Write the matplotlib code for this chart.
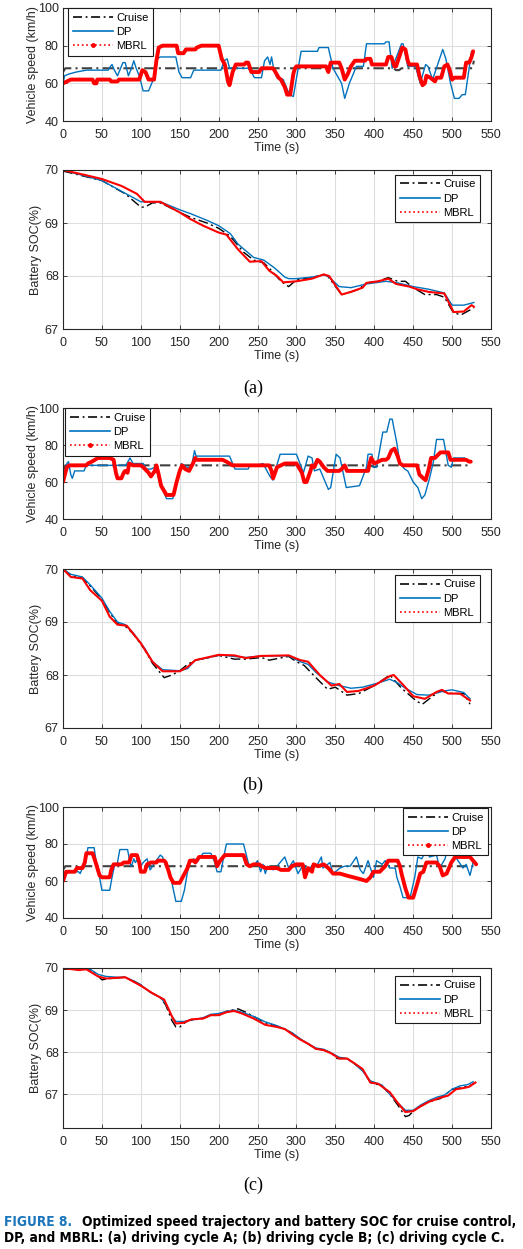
import numpy as np
import matplotlib
matplotlib.use('Agg')
import matplotlib.pyplot as plt
from matplotlib.lines import Line2D

plt.rcParams['font.family'] = ['Liberation Sans', 'DejaVu Sans']

# ---- speed trajectories (time s, km/h) ----
cruise_a = [(0, 66), (3, 68), (425, 68), (428, 67), (432, 67), (435, 68), (526, 68), (528, 72)]
dp_a = [(0, 60), (2, 64), (8, 65), (17, 66), (30, 67), (45, 67), (58, 67), (61, 69), (63, 70), (66, 67),
        (70, 64), (74, 68), (77, 71), (80, 71), (84, 64), (88, 68), (91, 72), (94, 68), (98, 64), (103, 56),
        (110, 56), (116, 62), (121, 73), (125, 74), (145, 74), (149, 66), (153, 63), (164, 63), (168, 67),
        (203, 67), (207, 72), (211, 73), (214, 68), (220, 68), (238, 68), (242, 66), (246, 63), (255, 63),
        (259, 72), (263, 74), (266, 70), (268, 74), (271, 67), (275, 63), (283, 62), (291, 54), (296, 53),
        (306, 77), (327, 77), (329, 79), (341, 79), (347, 68), (358, 60), (362, 52), (368, 60), (377, 69),
        (386, 69), (390, 81), (413, 81), (415, 82), (419, 82), (423, 68), (435, 81), (437, 81), (443, 69),
        (453, 69), (459, 60), (466, 70), (469, 69), (475, 62), (479, 67), (488, 78), (492, 73), (498, 60),
        (503, 52), (509, 52), (513, 54), (517, 54), (525, 77), (527, 77)]
mbrl_a = [(0, 60), (5, 61), (10, 62), (38, 62), (40, 60), (43, 60), (44, 62), (60, 62), (62, 61), (70, 61),
          (72, 62), (98, 62), (102, 67), (106, 66), (110, 62), (117, 62), (120, 72), (123, 79), (128, 80),
          (146, 80), (148, 76), (155, 76), (158, 78), (170, 78), (172, 79), (178, 80), (200, 80), (204, 73),
          (208, 70), (212, 61), (214, 59), (218, 66), (222, 70), (233, 70), (235, 71), (238, 71), (242, 66),
          (252, 66), (255, 68), (270, 68), (273, 66), (277, 63), (280, 62), (285, 58), (288, 54), (292, 54),
          (296, 65), (298, 68), (300, 69), (338, 69), (341, 66), (344, 71), (355, 71), (358, 68), (362, 62),
          (366, 65), (370, 69), (375, 72), (388, 72), (390, 73), (395, 73), (397, 70), (415, 70), (418, 74),
          (422, 74), (426, 69), (428, 69), (432, 74), (436, 79), (440, 78), (443, 72), (445, 70), (455, 70),
          (458, 64), (462, 59), (465, 60), (467, 64), (472, 63), (475, 62), (478, 61), (480, 63), (486, 63),
          (490, 69), (494, 70), (497, 67), (500, 62), (503, 63), (515, 63), (518, 71), (522, 71), (525, 74),
          (527, 77)]

cruise_b = [(0, 64), (3, 69), (395, 69), (400, 68), (405, 69), (522, 69), (523, 70)]
dp_b = [(0, 60), (2, 65), (5, 70), (7, 71), (10, 64), (12, 62), (15, 66), (27, 66), (30, 69), (81, 69),
        (86, 73), (90, 70), (103, 70), (107, 67), (113, 67), (118, 68), (120, 67), (124, 60), (133, 51),
        (141, 51), (150, 66), (152, 70), (158, 68), (165, 68), (169, 77), (171, 74), (214, 74), (221, 67),
        (238, 67), (240, 69), (249, 69), (257, 70), (266, 63), (270, 61), (274, 68), (279, 75), (300, 75),
        (309, 65), (315, 74), (320, 73), (323, 66), (330, 67), (341, 56), (344, 57), (351, 75), (356, 73),
        (364, 57), (381, 58), (390, 68), (392, 75), (397, 75), (399, 68), (403, 68), (411, 87), (416, 87),
        (420, 94), (423, 94), (429, 81), (433, 70), (439, 67), (443, 66), (450, 60), (456, 57), (461, 51),
        (465, 53), (471, 62), (476, 71), (480, 83), (489, 83), (495, 69), (499, 68), (502, 73), (516, 73),
        (519, 72), (523, 71)]
mbrl_b = [(0, 60), (3, 65), (5, 68), (8, 69), (30, 69), (32, 70), (37, 71), (45, 73), (60, 73), (65, 72),
          (68, 65), (70, 62), (75, 62), (78, 65), (80, 66), (83, 65), (85, 70), (90, 69), (100, 69), (103, 68),
          (110, 65), (113, 63), (118, 66), (120, 69), (123, 64), (126, 58), (133, 53), (142, 53), (146, 60),
          (150, 66), (153, 69), (157, 67), (162, 66), (167, 70), (170, 73), (172, 72), (205, 72), (210, 71),
          (218, 69), (265, 69), (268, 66), (270, 62), (275, 68), (280, 69), (285, 70), (300, 70), (307, 65),
          (310, 60), (313, 60), (318, 66), (320, 69), (323, 68), (327, 72), (330, 71), (335, 68), (340, 66),
          (355, 66), (358, 67), (362, 69), (365, 66), (392, 66), (394, 70), (396, 73), (400, 70), (405, 71),
          (410, 72), (415, 72), (418, 73), (422, 77), (426, 78), (430, 74), (433, 70), (437, 69), (455, 69),
          (458, 64), (463, 62), (466, 61), (470, 67), (473, 73), (478, 73), (485, 76), (495, 76), (498, 72),
          (518, 72), (522, 71), (524, 71)]

cruise_c = [(0, 66), (3, 68), (528, 68)]
dp_c = [(0, 60), (3, 64), (10, 65), (20, 65), (22, 64), (25, 67), (28, 68), (32, 78), (40, 78), (42, 72),
        (47, 62), (50, 55), (60, 55), (63, 62), (66, 68), (70, 70), (73, 77), (83, 77), (86, 70), (88, 68),
        (91, 72), (93, 70), (96, 72), (100, 68), (103, 70), (108, 72), (112, 66), (118, 70), (125, 74),
        (128, 73), (132, 68), (137, 65), (142, 55), (145, 49), (152, 49), (156, 55), (160, 65), (163, 70),
        (168, 72), (172, 70), (180, 75), (190, 75), (195, 70), (198, 65), (203, 65), (206, 72), (210, 80),
        (232, 80), (238, 70), (240, 68), (245, 68), (250, 71), (254, 65), (257, 69), (260, 64), (263, 68),
        (270, 66), (275, 68), (285, 73), (290, 67), (296, 71), (302, 64), (309, 69), (313, 66), (320, 68),
        (326, 68), (332, 73), (334, 67), (343, 70), (347, 64), (356, 67), (362, 68), (369, 68), (377, 73),
        (382, 66), (386, 64), (392, 71), (399, 62), (403, 71), (410, 69), (414, 71), (420, 67), (427, 67),
        (429, 62), (433, 57), (437, 51), (446, 51), (452, 62), (456, 73), (461, 72), (467, 77), (471, 73),
        (480, 74), (484, 67), (491, 72), (495, 80), (506, 72), (514, 67), (518, 69), (523, 63), (527, 70),
        (530, 70)]
mbrl_c = [(0, 60), (4, 65), (15, 65), (18, 67), (25, 67), (28, 70), (30, 75), (38, 75), (42, 70), (47, 63),
          (50, 62), (60, 62), (62, 66), (65, 69), (75, 69), (78, 70), (85, 70), (88, 74), (95, 74), (98, 70),
          (100, 65), (105, 65), (108, 69), (113, 70), (120, 70), (122, 71), (130, 71), (132, 70), (136, 65),
          (138, 62), (142, 59), (150, 59), (155, 63), (160, 67), (163, 71), (168, 71), (170, 70), (175, 73),
          (195, 73), (198, 68), (202, 71), (208, 74), (232, 74), (236, 69), (240, 68), (245, 69), (252, 69),
          (255, 68), (260, 67), (275, 67), (280, 66), (290, 66), (294, 68), (300, 69), (308, 69), (311, 62),
          (315, 67), (320, 65), (322, 69), (328, 68), (335, 69), (341, 67), (347, 64), (356, 64), (364, 63),
          (373, 62), (382, 61), (390, 60), (395, 62), (399, 65), (407, 65), (414, 68), (418, 71), (430, 71),
          (433, 68), (435, 64), (440, 56), (444, 51), (450, 51), (455, 58), (459, 64), (463, 65), (467, 70),
          (480, 70), (484, 68), (488, 63), (493, 64), (499, 70), (504, 73), (523, 73), (527, 71), (531, 69)]

# ---- battery SOC (time s, %) ----
cruise_soc_a = [(0, 69.98), (50, 69.8), (80, 69.55), (100, 69.3), (105, 69.3), (115, 69.38), (125, 69.38),
                (150, 69.2), (165, 69.1), (185, 69.0), (200, 68.9), (215, 68.75), (232, 68.45), (245, 68.3),
                (258, 68.25), (268, 68.1), (280, 67.9), (290, 67.8), (300, 67.93), (320, 67.97), (335, 68.03),
                (340, 68.0), (358, 67.65), (370, 67.7), (380, 67.75), (390, 67.87), (405, 67.9), (418, 67.97),
                (430, 67.9), (440, 67.9), (450, 67.78), (465, 67.65), (480, 67.65), (490, 67.6), (502, 67.3),
                (512, 67.27), (528, 67.4)]
dp_soc_a = [(0, 70.0), (25, 69.9), (50, 69.8), (75, 69.6), (100, 69.4), (125, 69.4), (150, 69.25),
            (165, 69.17), (185, 69.05), (200, 68.95), (210, 68.85), (215, 68.8), (225, 68.6), (245, 68.35),
            (258, 68.3), (272, 68.15), (285, 67.98), (290, 67.95), (300, 67.95), (320, 67.98), (335, 68.02),
            (340, 68.0), (355, 67.8), (370, 67.78), (390, 67.85), (415, 67.9), (430, 67.87), (450, 67.8),
            (470, 67.75), (490, 67.68), (500, 67.45), (515, 67.45), (528, 67.5)]
mbrl_soc_a = [(0, 70.0), (30, 69.9), (50, 69.83), (75, 69.7), (95, 69.55), (105, 69.4), (125, 69.4),
              (150, 69.2), (163, 69.08), (180, 68.95), (200, 68.82), (210, 68.78), (225, 68.5), (240, 68.27),
              (255, 68.28), (265, 68.1), (275, 68.0), (283, 67.88), (300, 67.9), (320, 67.95), (335, 68.03),
              (342, 68.0), (358, 67.65), (370, 67.7), (385, 67.78), (390, 67.87), (405, 67.9), (418, 67.95),
              (428, 67.85), (445, 67.8), (455, 67.75), (470, 67.7), (490, 67.67), (502, 67.32), (515, 67.33),
              (525, 67.45), (528, 67.42)]

cruise_soc_b = [(0, 70.0), (10, 69.88), (25, 69.83), (35, 69.68), (50, 69.43), (60, 69.18), (70, 68.97),
                (80, 68.92), (90, 68.78), (105, 68.48), (115, 68.22), (130, 67.95), (140, 68.0), (150, 68.08),
                (160, 68.2), (170, 68.28), (185, 68.32), (200, 68.37), (220, 68.3), (235, 68.3), (255, 68.33),
                (265, 68.28), (290, 68.35), (300, 68.25), (310, 68.18), (325, 67.95), (340, 67.73),
                (350, 67.77), (365, 67.62), (380, 67.65), (400, 67.8), (420, 68.0), (435, 67.75), (455, 67.5),
                (462, 67.45), (475, 67.6), (485, 67.7), (500, 67.65), (515, 67.65), (523, 67.45)]
dp_soc_b = [(0, 70.0), (10, 69.9), (25, 69.85), (35, 69.7), (50, 69.45), (60, 69.2), (70, 69.0), (80, 68.95),
            (90, 68.8), (105, 68.5), (115, 68.25), (128, 68.1), (150, 68.08), (160, 68.12), (170, 68.28),
            (185, 68.32), (200, 68.38), (220, 68.35), (235, 68.33), (255, 68.36), (290, 68.36), (305, 68.25),
            (315, 68.2), (325, 68.05), (340, 67.87), (355, 67.8), (370, 67.75), (385, 67.77), (405, 67.85),
            (420, 67.92), (430, 67.85), (440, 67.75), (455, 67.63), (470, 67.62), (490, 67.7), (500, 67.72),
            (515, 67.67), (523, 67.55)]
mbrl_soc_b = [(0, 70.0), (10, 69.85), (25, 69.82), (35, 69.6), (50, 69.4), (60, 69.1), (70, 68.95),
              (82, 68.93), (100, 68.6), (115, 68.25), (128, 68.07), (150, 68.07), (160, 68.15), (170, 68.28),
              (185, 68.33), (200, 68.38), (220, 68.37), (235, 68.32), (255, 68.36), (290, 68.37), (305, 68.28),
              (315, 68.25), (330, 68.0), (345, 67.8), (355, 67.83), (365, 67.68), (380, 67.7), (400, 67.8),
              (420, 67.98), (425, 68.0), (438, 67.8), (450, 67.6), (465, 67.55), (480, 67.68), (487, 67.72),
              (495, 67.65), (510, 67.65), (523, 67.52)]

cruise_soc_c = [(0, 69.97), (15, 69.98), (30, 70.0), (40, 69.9), (50, 69.72), (60, 69.75), (80, 69.78),
                (90, 69.7), (100, 69.6), (110, 69.45), (125, 69.3), (132, 69.12), (140, 68.75), (145, 68.6),
                (150, 68.6), (160, 68.75), (180, 68.8), (190, 68.88), (200, 68.87), (210, 68.97), (225, 69.03),
                (235, 68.95), (245, 68.85), (260, 68.7), (275, 68.62), (285, 68.55), (295, 68.45), (305, 68.3),
                (315, 68.2), (325, 68.08), (335, 68.05), (345, 67.98), (352, 67.85), (365, 67.85),
                (375, 67.72), (385, 67.58), (395, 67.28), (410, 67.2), (420, 67.0), (430, 66.75), (440, 66.47),
                (445, 66.5), (450, 66.6), (460, 66.72), (470, 66.82), (485, 66.9), (490, 66.97), (500, 67.12),
                (510, 67.15), (522, 67.2), (530, 67.28)]
dp_soc_c = [(0, 70.0), (20, 69.98), (35, 69.97), (45, 69.85), (55, 69.8), (70, 69.78), (80, 69.78),
            (90, 69.7), (100, 69.6), (110, 69.45), (125, 69.3), (132, 69.15), (140, 68.85), (145, 68.73),
            (155, 68.73), (170, 68.78), (180, 68.82), (190, 68.9), (200, 68.92), (210, 68.97), (220, 69.0),
            (230, 68.95), (245, 68.85), (260, 68.72), (275, 68.63), (285, 68.55), (295, 68.45), (305, 68.32),
            (315, 68.2), (325, 68.1), (335, 68.07), (345, 67.98), (355, 67.88), (365, 67.85), (375, 67.72),
            (385, 67.55), (395, 67.32), (410, 67.22), (420, 67.0), (430, 66.8), (440, 66.62), (450, 66.62),
            (460, 66.75), (470, 66.85), (480, 66.93), (490, 66.98), (500, 67.12), (510, 67.2), (520, 67.23),
            (527, 67.3)]
mbrl_soc_c = [(0, 70.0), (20, 69.95), (30, 69.97), (45, 69.8), (55, 69.75), (80, 69.78), (90, 69.68),
              (100, 69.58), (115, 69.4), (130, 69.25), (140, 68.85), (145, 68.68), (155, 68.7), (165, 68.78),
              (180, 68.8), (190, 68.88), (200, 68.88), (210, 68.95), (220, 68.98), (230, 68.92), (245, 68.8),
              (260, 68.65), (275, 68.6), (285, 68.55), (295, 68.42), (305, 68.3), (315, 68.2), (325, 68.08),
              (335, 68.05), (345, 67.97), (355, 67.85), (365, 67.85), (375, 67.73), (385, 67.6), (395, 67.28),
              (405, 67.25), (420, 67.05), (430, 66.8), (440, 66.58), (450, 66.6), (460, 66.72), (470, 66.82),
              (485, 66.92), (495, 66.97), (505, 67.12), (515, 67.15), (522, 67.18), (530, 67.28)]

blue = (0, 0.447, 0.741)
grey = '0.15'
W, H = 523, 1249


def unzip(pairs):
    a = np.array(pairs, dtype=float)
    return a[:, 0], a[:, 1]


def rect(top, bottom):
    return [63 / W, 1 - bottom / H, 428 / W, (bottom - top) / H]


def style_axes(ax, ylim, yticks, ylabel, ypad):
    ax.set_xlim(0, 550)
    ax.set_xticks(range(0, 551, 50))
    ax.set_ylim(*ylim)
    ax.set_yticks(yticks)
    ax.grid(True, color='0.87', lw=0.8)
    ax.set_axisbelow(True)
    ax.tick_params(direction='in', top=True, right=True, length=3, width=0.6,
                   labelsize=9, color=grey, labelcolor=grey)
    ax.tick_params(axis='x', pad=6)
    ax.tick_params(axis='y', pad=3)
    for s in ax.spines.values():
        s.set_color(grey)
        s.set_linewidth(0.8)
    ax.set_xlabel('Time (s)', fontsize=9, color=grey, labelpad=0.5)
    ax.set_ylabel(ylabel, fontsize=9, color=grey, labelpad=ypad)


def add_legend(ax, mbrl_handle, loc, anchor):
    handles = [Line2D([], [], color='0.1', lw=1.3, ls=(0, (5, 2, 1, 2))),
               Line2D([], [], color=blue, lw=1.2),
               mbrl_handle]
    leg = ax.legend(handles, ['Cruise', 'DP', 'MBRL'], loc=loc, bbox_to_anchor=anchor,
                    fontsize=8, handlelength=3.6, handletextpad=0.3, labelspacing=0.38,
                    borderpad=0.4, borderaxespad=0, fancybox=False, framealpha=1,
                    edgecolor='0.1', numpoints=1)
    leg.get_frame().set_linewidth(0.8)


def speed_panel(top, bottom, cruise, dp, mbrl, loc, anchor):
    ax = fig.add_axes(rect(top, bottom))
    ax.plot(*unzip(cruise), color='0.25', lw=1.5, ls=(0, (5, 2, 1, 2)))
    ax.plot(*unzip(dp), color=blue, lw=1.0)
    ax.plot(*unzip(mbrl), color='red', lw=2.8, solid_joinstyle='round', solid_capstyle='round')
    style_axes(ax, (40, 100), [40, 60, 80, 100], 'Vehicle speed (km/h)', -1)
    add_legend(ax, Line2D([], [], color='red', lw=1.2, ls=':', marker='.', markersize=5),
               loc, anchor)


def soc_panel(top, bottom, cruise, dp, mbrl, ylim, anchor):
    ax = fig.add_axes(rect(top, bottom))
    ax.plot(*unzip(cruise), color='black', lw=1.0, ls=(0, (7, 2.5, 1.5, 2.5)))
    ax.plot(*unzip(dp), color=blue, lw=1.0)
    ax.plot(*unzip(mbrl), color='red', lw=1.5, solid_joinstyle='round')
    style_axes(ax, ylim, [67, 68, 69, 70], 'Battery SOC(%)', 2)
    add_legend(ax, Line2D([], [], color='red', lw=1.2, ls=':'), 'upper right', anchor)


fig = plt.figure(figsize=(W / 100, H / 100), dpi=100)

speed_panel(8, 121, cruise_a, dp_a, mbrl_a, 'upper left', (0.012, 0.998))
soc_panel(170, 329, cruise_soc_a, dp_soc_a, mbrl_soc_a, (67, 70), (0.974, 0.969))
speed_panel(408, 519, cruise_b, dp_b, mbrl_b, 'upper left', (0.005, 0.998))
soc_panel(569, 728, cruise_soc_b, dp_soc_b, mbrl_soc_b, (67, 70), (0.974, 0.962))
speed_panel(807, 918, cruise_c, dp_c, mbrl_c, 'upper right', (0.993, 0.99))
soc_panel(968, 1128, cruise_soc_c, dp_soc_c, mbrl_soc_c, (66.2, 70), (0.974, 0.95))

# sub-figure letters
for lab, y in [('(a)', 388), ('(b)', 785), ('(c)', 1185)]:
    fig.text(253 / W, 1 - y / H, lab, family='Liberation Serif', fontsize=13,
             ha='center', va='center')

# caption (condensed bold sans, blue figure number)
cap = dict(weight='bold', family='DejaVu Sans', stretch='condensed', fontsize=10.5, va='center')
fig.text(4 / W, 1 - 1222 / H, 'FIGURE 8.', color='#1a75bb', **cap)
line1 = fig.text(82 / W, 1 - 1222 / H, 'Optimized speed trajectory and battery SOC for cruise control,', **cap)
fig.text(4 / W, 1 - 1238 / H,
         'DP, and MBRL: (a) driving cycle A; (b) driving cycle B; (c) driving cycle C.', **cap)

# shrink caption to the printed width if the font runs wide
r = fig.canvas.get_renderer()
w1 = line1.get_window_extent(r).width
scale = min(1.0, (519 - 82) / w1)
for t in fig.texts[-3:]:
    t.set_fontsize(10.5 * scale)

fig.savefig('out.png', dpi=100)
